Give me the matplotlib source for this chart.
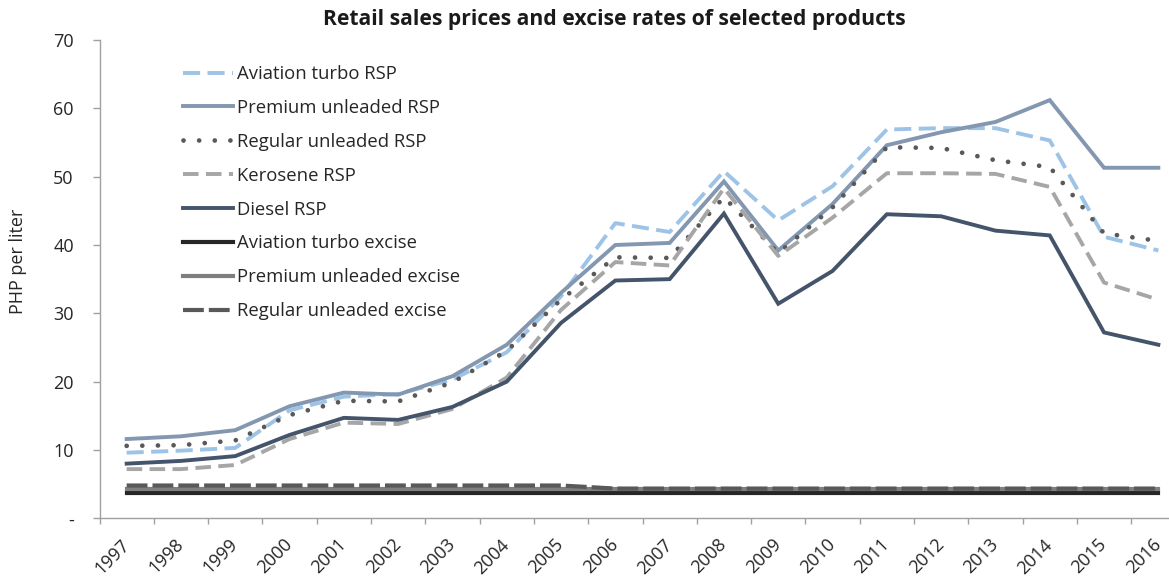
import matplotlib
matplotlib.use("Agg")
import matplotlib.pyplot as plt
import numpy as np

plt.rcParams['font.family'] = ['Open Sans', 'DejaVu Sans']

years = ['1997', '1998', '1999', '2000', '2001', '2002', '2003', '2004', '2005', '2006',
         '2007', '2008', '2009', '2010', '2011', '2012', '2013', '2014', '2015', '2016']

aviation_rsp = [9.6, 9.9, 10.3, 15.8, 17.8, 18.2, 20.3, 24.3, 32.5, 43.2,
                41.9, 50.8, 43.6, 48.6, 56.9, 57.1, 57.1, 55.3, 41.2, 39.2]
premium_rsp = [11.6, 12.0, 12.9, 16.4, 18.4, 18.1, 20.8, 25.4, 33.0, 40.0,
               40.3, 49.3, 39.2, 46.0, 54.6, 56.5, 58.0, 61.2, 51.3, 51.3]
regular_rsp = [10.6, 10.7, 11.4, 15.1, 17.2, 17.1, 19.9, 24.5, 32.0, 38.2,
               38.1, 47.0, 38.8, 45.5, 54.3, 54.2, 52.4, 51.4, 41.7, 40.6]
kerosene_rsp = [7.2, 7.2, 7.8, 11.6, 14.0, 13.8, 16.0, 20.6, 30.5, 37.5,
                37.0, 48.3, 38.4, 44.0, 50.5, 50.5, 50.4, 48.5, 34.5, 32.0]
diesel_rsp = [8.0, 8.4, 9.1, 12.2, 14.7, 14.4, 16.3, 20.0, 28.6, 34.8,
              35.0, 44.6, 31.4, 36.2, 44.5, 44.2, 42.1, 41.4, 27.2, 25.4]
aviation_excise = [3.67] * 20
premium_excise = [4.35] * 20
regular_excise = [4.80] * 9 + [4.35] * 11

y_ticks = [0, 10, 20, 30, 40, 50, 60, 70]
y_tick_labels = ['-', '10', '20', '30', '40', '50', '60', '70']

W, H = 1169, 584
fig = plt.figure(figsize=(W / 100, H / 100), dpi=100)
left_px, right_px, top_px, bot_px = 99.5, 1185.5, 40, 518.3
ax = fig.add_axes([left_px / W, 1 - bot_px / H, (right_px - left_px) / W, (bot_px - top_px) / H])

x = np.arange(len(years))

series = [
    (aviation_rsp, 'Aviation turbo RSP', dict(color='#9DC3E6', lw=2.8, dashes=(4.4, 1.9))),
    (premium_rsp, 'Premium unleaded RSP', dict(color='#8497B0', lw=2.8)),
    (regular_rsp, 'Regular unleaded RSP', dict(color='#595959', lw=3.4, dashes=(0.01, 3.3),
                                               dash_capstyle='round')),
    (kerosene_rsp, 'Kerosene RSP', dict(color='#A6A6A6', lw=2.8, dashes=(4.0, 1.9))),
    (diesel_rsp, 'Diesel RSP', dict(color='#44546A', lw=2.8)),
    (aviation_excise, 'Aviation turbo excise', dict(color='#262626', lw=3.0)),
    (premium_excise, 'Premium unleaded excise', dict(color='#7F7F7F', lw=3.0)),
    (regular_excise, 'Regular unleaded excise', dict(color='#595959', lw=3.0, dashes=(5.0, 1.2))),
]
for vals, label, kw in series:
    ax.plot(x, vals, label=label, solid_joinstyle='miter', **kw)

ax.set_xlim(-0.5, len(years) - 0.5)
ax.set_ylim(0, 70)

ax.set_yticks(y_ticks)
ax.set_yticklabels(y_tick_labels)
ax.tick_params(axis='y', direction='out', length=5, width=1, color='#A0A0A0',
               pad=13.5, labelsize=13, labelcolor='#262626')

ax.set_xticks(np.arange(-0.5, len(years), 1.0))
ax.set_xticklabels([])
ax.set_xticks(x, minor=True)
ax.set_xticklabels(years, minor=True, rotation=45, ha='right', va='center',
                   rotation_mode='anchor', fontsize=13, color='#262626')
ax.tick_params(axis='x', which='major', direction='out', length=4.5, width=1, color='#A0A0A0')
ax.tick_params(axis='x', which='minor', length=0, pad=17)

for s in ['top', 'right']:
    ax.spines[s].set_visible(False)
for s in ['left', 'bottom']:
    ax.spines[s].set_color('#A0A0A0')
    ax.spines[s].set_linewidth(1.0)

fig.text(18 / W, 1 - 261 / H, 'PHP per liter', rotation=90, ha='center', va='center',
         fontsize=13, color='#262626')
fig.text(614 / W, 1 - 19 / H, 'Retail sales prices and excise rates of selected products',
         ha='center', va='center', fontsize=15.2, fontweight='bold', color='#1a1a1a')

leg = ax.legend(loc='upper left', bbox_to_anchor=(182.7 / W, 1 - 65 / H),
                bbox_transform=fig.transFigure, frameon=False, fontsize=13.3,
                handlelength=2.7, handletextpad=0.25, labelspacing=0.86,
                borderpad=0, borderaxespad=0)
for t in leg.get_texts():
    t.set_color('#262626')

fig.savefig('out.png', dpi=100)
